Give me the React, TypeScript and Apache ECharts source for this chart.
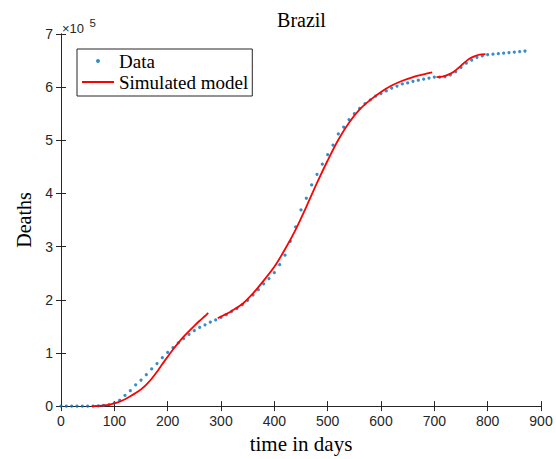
import React, { useEffect, useRef } from "react";
import * as echarts from "echarts";

const days = [0, 10, 20, 30, 40, 50, 60, 70, 80, 90, 100, 110, 120, 130, 140, 150, 160, 170, 180, 190, 200, 210, 220, 230, 240, 250, 260, 270, 280, 290, 300, 310, 320, 330, 340, 350, 360, 370, 380, 390, 400, 410, 420, 430, 440, 450, 460, 470, 480, 490, 500, 510, 520, 530, 540, 550, 560, 570, 580, 590, 600, 610, 620, 630, 640, 650, 660, 670, 680, 690, 700, 710, 720, 730, 740, 750, 760, 770, 780, 790, 800, 810, 820, 830, 840, 850, 860, 870];
const deaths = [0, 0, 0, 0, 0, 0, 100, 300, 1200, 2700, 6000, 11000, 20000, 29000, 40000, 49000, 59000, 70000, 80000, 91000, 101000, 110000, 119000, 127000, 135000, 142000, 148000, 153000, 158000, 162000, 167000, 172000, 178000, 184000, 191000, 199000, 209000, 219000, 230000, 240000, 251000, 266000, 284000, 310000, 337000, 369000, 391000, 416000, 436000, 455000, 473000, 491000, 512000, 525000, 539000, 550000, 560000, 569000, 576000, 583000, 588000, 593000, 598000, 602000, 606000, 608000, 611000, 613000, 615000, 617000, 619000, 619000, 620000, 623000, 629000, 637000, 645000, 651000, 656000, 659000, 661000, 662000, 663000, 664000, 665000, 666000, 667000, 668000];

const model1Days = [58, 70, 80, 90, 100, 110, 120, 130, 140, 150, 160, 170, 180, 190, 200, 210, 220, 230, 240, 250, 260, 270, 276];
const model1 = [0, 500, 1200, 2500, 5000, 8500, 13000, 18500, 24500, 31500, 40500, 51500, 64500, 79000, 93000, 106500, 119000, 130500, 141000, 151000, 160500, 169500, 175500];
const model2Days = [294, 300, 310, 320, 340, 360, 380, 400, 420, 440, 460, 480, 500, 520, 540, 560, 580, 600, 620, 640, 660, 680, 696];
const model2 = [165500, 168500, 173500, 179000, 192000, 212000, 236000, 262000, 295000, 332000, 375000, 420000, 462000, 501000, 533000, 558000, 576000, 591000, 603000, 612000, 619000, 624000, 628000];
const model3Days = [704, 715, 725, 735, 745, 755, 765, 775, 785, 796];
const model3 = [619000, 620000, 623000, 628000, 636000, 645000, 653000, 658000, 661000, 662000];

const xTicks = [0, 100, 200, 300, 400, 500, 600, 700, 800, 900];
const yTicks = [0, 1, 2, 3, 4, 5, 6, 7];

const TITLE = "Brazil";
const X_NAME = "time in days";
const Y_NAME = "Deaths";

const zip = (xs: number[], ys: number[]) => xs.map((x, i) => [x, ys[i]]);

export default function App() {
  const ref = useRef<HTMLDivElement>(null);
  useEffect(() => {
    document.body.style.margin = "0";
    if (!ref.current) return;
    const chart = echarts.init(ref.current, null, { renderer: "svg" });
    const axisColor = "#262626";
    const sans = "Liberation Sans";
    const serif = "Liberation Serif";
    const xMin = xTicks[0];
    const xMax = xTicks[xTicks.length - 1];
    const yMin = yTicks[0] * 1e5;
    const yMax = yTicks[yTicks.length - 1] * 1e5;
    const baseX = {
      type: "value" as const,
      min: xMin,
      max: xMax,
      interval: 100,
      axisLine: { show: true, lineStyle: { color: axisColor, width: 1 } },
      axisTick: { show: true, inside: true, length: 5, lineStyle: { color: axisColor } },
      splitLine: { show: false },
    };
    const baseY = {
      type: "value" as const,
      min: yMin,
      max: yMax,
      interval: 100000,
      axisLine: { show: true, lineStyle: { color: axisColor, width: 1 } },
      axisTick: { show: true, inside: true, length: 5, lineStyle: { color: axisColor } },
      splitLine: { show: false },
    };
    const lineSeries = (d: number[][]) => ({
      type: "line" as const,
      name: "Simulated model",
      data: d,
      xAxisIndex: 0,
      yAxisIndex: 0,
      smooth: 0.3,
      symbol: "none",
      showSymbol: false,
      lineStyle: { color: "#FF0000", width: 1.8 },
      itemStyle: { color: "#FF0000" },
      z: 3,
    });
    chart.setOption({
      animation: false,
      grid: { left: 61, right: 15, top: 34, bottom: 48, containLabel: false },
      xAxis: [
        {
          ...baseX,
          position: "bottom",
          name: X_NAME,
          nameLocation: "middle",
          nameGap: 20,
          nameTextStyle: { fontFamily: serif, fontSize: 21, color: "#000" },
          axisLabel: { show: true, margin: 8, fontFamily: sans, fontSize: 14, color: axisColor },
        },
        { ...baseX, position: "top", axisLabel: { show: false } },
      ],
      yAxis: [
        {
          ...baseY,
          position: "left",
          name: Y_NAME,
          nameLocation: "middle",
          nameGap: 24,
          nameTextStyle: { fontFamily: serif, fontSize: 20, color: "#000" },
          axisLabel: {
            show: true,
            margin: 8,
            fontFamily: sans,
            fontSize: 14,
            color: axisColor,
            formatter: (v: number) => String(Math.round(v / 1e5)),
          },
        },
        { ...baseY, position: "right", axisLabel: { show: false } },
      ],
      legend: {
        show: true,
        orient: "vertical",
        left: 77,
        top: 49,
        padding: [1.5, 4, 3.5, 4],
        itemGap: 0,
        itemWidth: 32,
        itemHeight: 4,
        backgroundColor: "#fff",
        borderColor: axisColor,
        borderWidth: 1,
        borderRadius: 0,
        textStyle: { fontFamily: serif, fontSize: 19, color: "#000", lineHeight: 21 },
        data: [
          { name: "Data" },
          { name: "Simulated model", itemStyle: { opacity: 0 } },
        ],
      },
      graphic: [
        {
          type: "text",
          x: 301.5,
          y: 19.7,
          style: {
            text: TITLE,
            font: `20px "${serif}"`,
            fill: "#000",
            textAlign: "center",
            textVerticalAlign: "middle",
          },
        },
        {
          type: "text",
          x: 62,
          y: 28,
          style: {
            text: "×10",
            font: `13px "${sans}"`,
            fill: axisColor,
            textAlign: "left",
            textVerticalAlign: "middle",
          },
        },
        {
          type: "text",
          x: 89.5,
          y: 22.5,
          style: {
            text: "5",
            font: `11.5px "${sans}"`,
            fill: axisColor,
            textAlign: "left",
            textVerticalAlign: "middle",
          },
        },
      ],
      series: [
        {
          type: "scatter",
          name: "Data",
          data: zip(days, deaths),
          xAxisIndex: 0,
          yAxisIndex: 0,
          symbol: "circle",
          symbolSize: 3.2,
          itemStyle: { color: "#0072BD" },
          z: 2,
        },
        lineSeries(zip(model1Days, model1)),
        lineSeries(zip(model2Days, model2)),
        lineSeries(zip(model3Days, model3)),
      ],
    });
    return () => chart.dispose();
  }, []);
  return <div ref={ref} style={{ width: 556, height: 459 }} />;
}
